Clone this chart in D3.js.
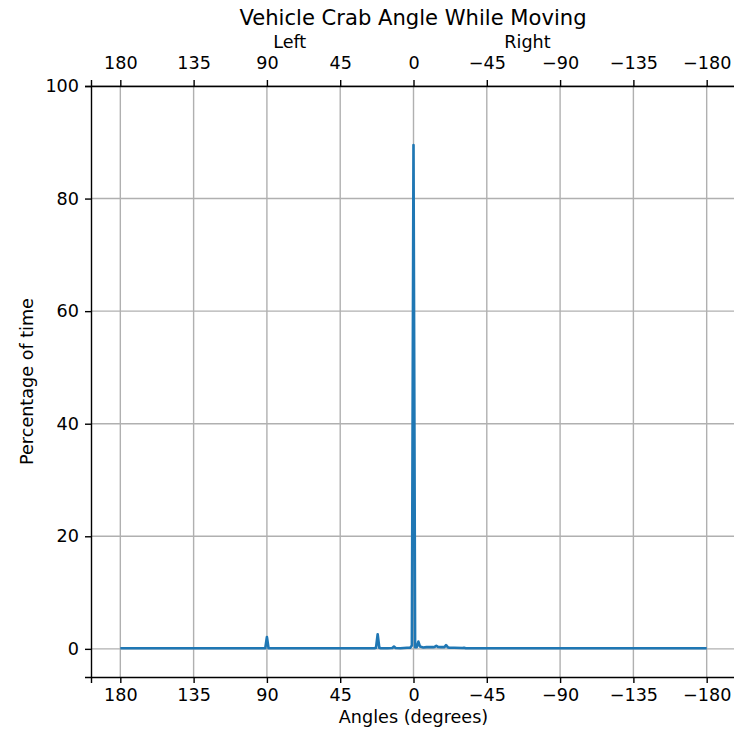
<!DOCTYPE html>
<html>
<head>
<meta charset="utf-8">
<script src="https://cdn.jsdelivr.net/npm/d3@7"></script>
<style>
  body { margin: 0; background: #fff; }
  text { font-family: "DejaVu Sans", sans-serif; fill: #000; }
</style>
</head>
<body>
<svg id="chart" width="734" height="732"></svg>
<script>
// ---- data ----
const angles = [180, 120, 92, 91, 90, 89, 88, 60, 30, 24, 23, 22, 21, 20, 16, 13, 12, 11, 8, 4, 3, 2, 1, 0, -1, -2, -3, -4, -6, -8, -10, -12, -13, -14, -15, -17, -19, -20, -21, -22, -25, -30, -31, -32, -60, -120, -180];
const percents = [0.1, 0.1, 0.1, 0.1, 2.1, 0.1, 0.1, 0.1, 0.1, 0.1, 0.2, 2.6, 0.2, 0.1, 0.1, 0.15, 0.4, 0.15, 0.1, 0.2, 0.2, 0.2, 0.6, 89.5, 0.3, 0.3, 1.3, 0.4, 0.25, 0.3, 0.3, 0.3, 0.35, 0.55, 0.35, 0.3, 0.3, 0.65, 0.3, 0.2, 0.2, 0.15, 0.2, 0.1, 0.1, 0.1, 0.1];
const xTicks = [180, 135, 90, 45, 0, -45, -90, -135, -180];
const yTicks = [0, 20, 40, 60, 80, 100];
const sideLabels = [{text: "Left", angle: 76}, {text: "Right", angle: -70}];

// ---- layout ----
const svg = d3.select("#chart");
const mL = 91, mR = 736, mT = 86, mB = 677;
const FS = 17.6;
const x = d3.scaleLinear().domain([198, -198]).range([mL, mR]);
const y = d3.scaleLinear().domain([-5, 100]).range([mB, mT]);
const fmt = d => d < 0 ? "\u2212" + Math.abs(d) : String(d);

// grid
const g = svg.append("g");
g.selectAll("line.vg").data(xTicks).join("line")
  .attr("x1", d => x(d)).attr("x2", d => x(d))
  .attr("y1", mT).attr("y2", mB)
  .attr("stroke", "#b0b0b0").attr("stroke-width", 1.4);
g.selectAll("line.hg").data(yTicks).join("line")
  .attr("x1", mL).attr("x2", mR)
  .attr("y1", d => y(d)).attr("y2", d => y(d))
  .attr("stroke", "#b0b0b0").attr("stroke-width", 1.4);

// line
const line = d3.line().x(d => x(d[0])).y(d => y(d[1]));
svg.append("path")
  .datum(angles.map((a, i) => [a, percents[i]]))
  .attr("d", line)
  .attr("fill", "none")
  .attr("stroke", "#1f77b4")
  .attr("stroke-width", 2.6)
  .attr("stroke-linejoin", "round");

// axes
function styleAxis(sel) {
  sel.selectAll("text").style("font-size", FS + "px").style("font-family", "DejaVu Sans, sans-serif");
  sel.selectAll(".tick line").attr("stroke", "#000").attr("stroke-width", 1.4);
  sel.select(".domain").attr("stroke", "#000").attr("stroke-width", 1.4);
}
const xb = svg.append("g").attr("transform", `translate(0,${mB})`)
  .call(d3.axisBottom(x).tickValues(xTicks).tickFormat(fmt).tickSizeOuter(0).tickSize(6).tickPadding(6));
styleAxis(xb);
const xt = svg.append("g").attr("transform", `translate(0,${mT})`)
  .call(d3.axisTop(x).tickValues(xTicks).tickFormat(fmt).tickSizeOuter(0).tickSize(6).tickPadding(11));
styleAxis(xt);
const yl = svg.append("g").attr("transform", `translate(${mL},0)`)
  .call(d3.axisLeft(y).tickValues(yTicks).tickFormat(fmt).tickSizeOuter(0).tickSize(6).tickPadding(6));
styleAxis(yl);
svg.append("line").attr("x1", mR).attr("x2", mR).attr("y1", mT).attr("y2", mB)
  .attr("stroke", "#000").attr("stroke-width", 1.4);

// labels
svg.append("text").attr("x", 413).attr("y", 25).attr("text-anchor", "middle")
  .style("font-size", "21.1px").text("Vehicle Crab Angle While Moving");
svg.selectAll("text.side").data(sideLabels).join("text")
  .attr("x", d => x(d.angle)).attr("y", 48).attr("text-anchor", "middle")
  .style("font-size", FS + "px").text(d => d.text);
svg.append("text").attr("x", x(0)).attr("y", 723).attr("text-anchor", "middle")
  .style("font-size", FS + "px").text("Angles (degrees)");
svg.append("text").attr("transform", `translate(33,${(mT + mB) / 2}) rotate(-90)`)
  .attr("text-anchor", "middle").style("font-size", FS + "px").text("Percentage of time");
</script>
</body>
</html>
